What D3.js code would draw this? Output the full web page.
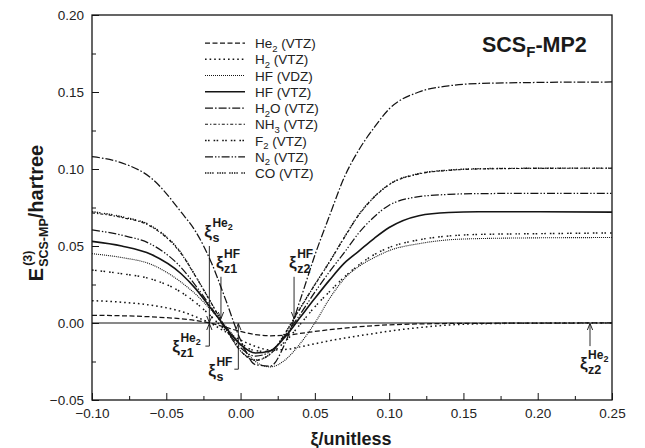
<!DOCTYPE html>
<html>
<head>
<meta charset="utf-8">
<script src="https://cdn.jsdelivr.net/npm/d3@7"></script>
<style>
  html, body { margin: 0; padding: 0; background: #fff; }
  svg { display: block; font-family: "Liberation Sans", Arial, Helvetica, sans-serif; }
</style>
</head>
<body>
<svg id="chart" width="645" height="448"></svg>
<script>
// ξ grid (unitless) shared by all curves
const xiGrid = [-0.10, -0.08, -0.06, -0.04, -0.03, -0.02, -0.01, 0.00, 0.01, 0.02, 0.03, 0.04,
                0.05, 0.06, 0.07, 0.08, 0.09, 0.10, 0.12, 0.14, 0.16, 0.20, 0.25];

// E(3) SCS-MP values in hartree, one array per system
const he2VTZ = [0.0050, 0.0047, 0.0040, 0.0027, 0.0016, -0.0002, -0.0028, -0.0055, -0.0075, -0.0083, -0.0080, -0.0068,
                -0.0055, -0.0043, -0.0033, -0.0024, -0.0017, -0.0012, -0.0006, -0.0003, -0.0002, -0.0001, 0.0001];
const h2VTZ  = [0.0145, 0.0135, 0.0115, 0.0075, 0.0040, -0.0003, -0.0058, -0.0110, -0.0152, -0.0175, -0.0172, -0.0155,
                -0.0135, -0.0115, -0.0098, -0.0082, -0.0068, -0.0053, -0.0030, -0.0013, -0.0005, -0.0001, 0.0000];
const hfVDZ  = [0.0450, 0.0425, 0.0380, 0.0265, 0.0185, 0.0085, -0.0020, -0.0140, -0.0250, -0.0285, -0.0240, -0.0135,
                0.0000, 0.0160, 0.0290, 0.0370, 0.0425, 0.0470, 0.0515, 0.0540, 0.0548, 0.0553, 0.0555];
const hfVTZ  = [0.0530, 0.0500, 0.0445, 0.0320, 0.0220, 0.0095, -0.0030, -0.0140, -0.0195, -0.0180, -0.0090, 0.0035,
                0.0160, 0.0280, 0.0390, 0.0470, 0.0550, 0.0620, 0.0697, 0.0718, 0.0722, 0.0722, 0.0720];
const h2oVTZ = [0.1080, 0.1040, 0.0940, 0.0720, 0.0590, 0.0400, 0.0150, -0.0110, -0.0270, -0.0280, -0.0130, 0.0145,
                0.0440, 0.0700, 0.0950, 0.1130, 0.1270, 0.1390, 0.1500, 0.1540, 0.1555, 0.1562, 0.1565];
const nh3VTZ = [0.0715, 0.0685, 0.0625, 0.0450, 0.0298, 0.0134, -0.0036, -0.0182, -0.0243, -0.0202, -0.0068, 0.0092,
                0.0248, 0.0398, 0.0557, 0.0707, 0.0818, 0.0898, 0.0968, 0.0991, 0.1000, 0.1004, 0.1005];
const f2VTZ  = [0.0344, 0.0320, 0.0285, 0.0200, 0.0130, 0.0045, -0.0050, -0.0130, -0.0180, -0.0185, -0.0120, -0.0010,
                0.0105, 0.0205, 0.0300, 0.0380, 0.0445, 0.0490, 0.0540, 0.0565, 0.0575, 0.0580, 0.0585];
const n2VTZ  = [0.0604, 0.0570, 0.0510, 0.0360, 0.0240, 0.0105, -0.0040, -0.0160, -0.0215, -0.0185, -0.0080, 0.0055,
                0.0200, 0.0335, 0.0460, 0.0590, 0.0690, 0.0765, 0.0820, 0.0835, 0.0840, 0.0842, 0.0842];
const coVTZ  = [0.0723, 0.0690, 0.0630, 0.0455, 0.0300, 0.0135, -0.0035, -0.0180, -0.0240, -0.0200, -0.0065, 0.0095,
                0.0250, 0.0400, 0.0560, 0.0710, 0.0820, 0.0900, 0.0970, 0.0993, 0.1002, 0.1005, 0.1006];

// legend text pieces: base, subscript, remainder
const legendBase = ["He", "H", "HF", "HF", "H", "NH", "F", "N", "CO"];
const legendSub  = ["2", "2", "", "", "2", "3", "2", "2", ""];
const legendRest = [" (VTZ)", " (VTZ)", " (VDZ)", " (VTZ)", "O (VTZ)", " (VTZ)", " (VTZ)", " (VTZ)", " (VTZ)"];
const seriesValues = [he2VTZ, h2VTZ, hfVDZ, hfVTZ, h2oVTZ, nh3VTZ, f2VTZ, n2VTZ, coVTZ];

// line styles, in the same order as the series
const seriesDash = ["5,2.5", "1.6,3", "1,1", null, "8,2,1.6,2", "3,2,1.4,2",
                    "1.6,1.4,1.6,4", "8,2,1.4,1.8,1.4,2", "1.4,1,1.4,1,1.4,1,1.4,3.5"];
const seriesWidth = [1.25, 1.5, 1.1, 1.6, 1.25, 1.15, 1.45, 1.25, 1.35];

// axis ticks
const xTicks = [-0.10, -0.05, 0.00, 0.05, 0.10, 0.15, 0.20, 0.25];
const xMinor = [-0.075, -0.025, 0.025, 0.075, 0.125, 0.175, 0.225];
const yTicks = [-0.05, 0.00, 0.05, 0.10, 0.15, 0.20];
const yMinor = [-0.025, 0.025, 0.075, 0.125, 0.175];

// characteristic-point annotations: position, arrow start/end (hartree), subscript, superscript
const annXi   = [-0.0210, -0.0132, 0.0360, -0.0210, -0.0015, 0.2352];
const annFrom = [0.0500, 0.0300, 0.0300, -0.0150, -0.0300, -0.0150];
const annTo   = [0.0005, 0.0030, 0.0030, -0.0005, -0.0005, -0.0005];
const annSub  = ["s", "z1", "z2", "z1", "s", "z2"];
const annSup  = ["He2", "HF", "HF", "He2", "HF", "He2"];

const svg = d3.select("#chart");
const x = d3.scaleLinear().domain([-0.10, 0.25]).range([92, 612]);
const y = d3.scaleLinear().domain([-0.05, 0.20]).range([400, 15]);
const ink = "#141414";

// arrowhead
svg.append("defs").append("marker")
  .attr("id", "arrowhead").attr("viewBox", "0 0 10 10")
  .attr("refX", 9.5).attr("refY", 5)
  .attr("markerWidth", 7).attr("markerHeight", 7)
  .attr("markerUnits", "userSpaceOnUse")
  .attr("orient", "auto")
  .append("path").attr("d", "M0,1 L10,5 L0,9").attr("fill", "none")
  .attr("stroke", ink).attr("stroke-width", 1.3);

// axes
const fmt = d3.format(".2f");
const gx = svg.append("g").attr("transform", `translate(0,${y(-0.05)})`)
  .call(d3.axisBottom(x).tickValues(xTicks).tickFormat(fmt).tickSize(-7).tickPadding(8));
const gxm = svg.append("g").attr("transform", `translate(0,${y(-0.05)})`)
  .call(d3.axisBottom(x).tickValues(xMinor).tickFormat("").tickSize(-4));
const gy = svg.append("g").attr("transform", `translate(${x(-0.10)},0)`)
  .call(d3.axisLeft(y).tickValues(yTicks).tickFormat(fmt).tickSize(-7).tickPadding(8));
const gym = svg.append("g").attr("transform", `translate(${x(-0.10)},0)`)
  .call(d3.axisLeft(y).tickValues(yMinor).tickFormat("").tickSize(-4));
[gx, gxm, gy, gym].forEach(g => {
  g.select(".domain").remove();
  g.selectAll("line").attr("stroke", ink).attr("stroke-width", 1);
  g.selectAll("text").attr("fill", "#222").attr("font-size", 13.5)
    .attr("font-family", "'Liberation Sans', Arial, sans-serif");
});

// frame
svg.append("rect")
  .attr("x", x(-0.10)).attr("y", y(0.20))
  .attr("width", x(0.25) - x(-0.10)).attr("height", y(-0.05) - y(0.20))
  .attr("fill", "none").attr("stroke", ink).attr("stroke-width", 1.3);

// zero line
svg.append("line")
  .attr("x1", x(-0.10)).attr("x2", x(0.25)).attr("y1", y(0)).attr("y2", y(0))
  .attr("stroke", ink).attr("stroke-width", 1.1);

// curves
const line = d3.line().x(d => x(d[0])).y(d => y(d[1])).curve(d3.curveMonotoneX);
seriesValues.forEach((vals, i) => {
  const pts = xiGrid.map((v, j) => [v, vals[j]]);
  svg.append("path").datum(pts)
    .attr("d", line)
    .attr("fill", "none")
    .attr("stroke", ink)
    .attr("stroke-width", seriesWidth[i])
    .attr("stroke-dasharray", seriesDash[i]);
});

// legend
const legend = svg.append("g");
legendBase.forEach((b, i) => {
  const ly = 43 + i * 16.25;
  legend.append("line").attr("x1", 205).attr("x2", 245).attr("y1", ly).attr("y2", ly)
    .attr("stroke", ink).attr("stroke-width", seriesWidth[i]).attr("stroke-dasharray", seriesDash[i]);
  const t = legend.append("text").attr("x", 255).attr("y", ly + 5)
    .attr("font-size", 13.5).attr("fill", "#222");
  t.append("tspan").text(b);
  if (legendSub[i]) {
    t.append("tspan").attr("font-size", 9.5).attr("dy", 3.5).text(legendSub[i]);
    t.append("tspan").attr("dy", -3.5).text(legendRest[i]);
  } else {
    t.append("tspan").text(legendRest[i]);
  }
});

// title
const title = svg.append("text").attr("x", 482).attr("y", 52)
  .attr("font-size", 21.5).attr("font-weight", "bold").attr("fill", "#1a1a1a");
title.append("tspan").text("SCS");
title.append("tspan").attr("font-size", 15).attr("dy", 5).text("F");
title.append("tspan").attr("dy", -5).text("-MP2");

// axis titles
svg.append("text").attr("x", 351).attr("y", 445).attr("text-anchor", "middle")
  .attr("font-size", 18).attr("font-weight", "bold").attr("fill", "#1a1a1a")
  .text("ξ/unitless");

function tw(sel) { return sel.node().getComputedTextLength(); }
const yt = svg.append("g").attr("transform", "translate(43,213) rotate(-90)")
  .attr("font-weight", "bold").attr("fill", "#1a1a1a");
const eT = yt.append("text").attr("font-size", 20).text("E");
const supT = yt.append("text").attr("font-size", 12.5).text("(3)");
const subT = yt.append("text").attr("font-size", 12.5).text("SCS-MP");
const restT = yt.append("text").attr("font-size", 20).text("/hartree");
const eW = tw(eT), supW = tw(supT), subW = tw(subT), restW = tw(restT);
const total = eW + 1 + Math.max(supW, subW) + restW;
let cx = -total / 2;
eT.attr("x", cx).attr("y", 0);
cx += eW + 1;
supT.attr("x", cx + 1).attr("y", -11);
subT.attr("x", cx).attr("y", 5);
cx += Math.max(supW, subW);
restT.attr("x", cx).attr("y", 0);

// annotation label: ξ with stacked subscript and superscript
function xiLabel(g, x0, base, sub, sup) {
  const xiT = g.append("text").attr("x", x0).attr("y", base).attr("font-size", 17)
    .attr("font-weight", "bold").attr("fill", "#1a1a1a").text("ξ");
  const w = tw(xiT);
  g.append("text").attr("x", x0 + w + 0.5).attr("y", base + 5).attr("font-size", 12.5)
    .attr("font-weight", "bold").attr("fill", "#1a1a1a").text(sub);
  const st = g.append("text").attr("x", x0 + w + 0.5).attr("y", base - 10).attr("font-size", 12)
    .attr("font-weight", "bold").attr("fill", "#1a1a1a");
  if (sup === "He2") {
    st.append("tspan").text("He");
    st.append("tspan").attr("font-size", 9).attr("dy", 2.5).text("2");
  } else {
    st.text(sup);
  }
}

const ann = svg.append("g");
annXi.forEach((v, i) => {
  const ax = x(v), y1 = y(annFrom[i]), y2 = y(annTo[i]);
  ann.append("line").attr("x1", ax).attr("x2", ax).attr("y1", y1).attr("y2", y2)
    .attr("stroke", ink).attr("stroke-width", 0.9).attr("marker-end", "url(#arrowhead)");
  if (annFrom[i] > 0) {
    // label above the arrow
    xiLabel(ann, ax - 5, y1 - 9, annSub[i], annSup[i]);
  } else if (v > 0.2) {
    xiLabel(ann, ax - 10, y1 + 23, annSub[i], annSup[i]);
  } else {
    // bracketed label below-left
    ann.append("line").attr("x1", ax).attr("x2", ax - 4).attr("y1", y1).attr("y2", y1)
      .attr("stroke", ink).attr("stroke-width", 0.9);
    const off = annSup[i] === "He2" ? 37 : 30;
    const base = annSup[i] === "He2" ? y1 + 6 : y1 + 7;
    xiLabel(ann, ax - off, base, annSub[i], annSup[i]);
  }
});
</script>
</body>
</html>
